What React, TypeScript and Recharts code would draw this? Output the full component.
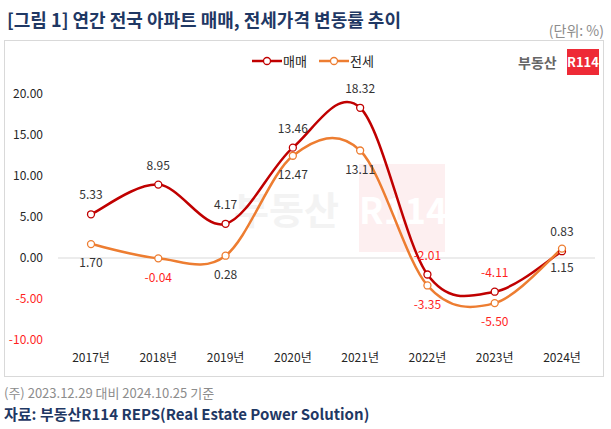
import React from "react";
import { LineChart, Line, XAxis, YAxis, ReferenceLine, LabelList } from "recharts";

const years = ["2017년", "2018년", "2019년", "2020년", "2021년", "2022년", "2023년", "2024년"];
const saleValues = [5.33, 8.95, 4.17, 13.46, 18.32, -2.01, -4.11, 0.83];
const jeonseValues = [1.7, -0.04, 0.28, 12.47, 13.11, -3.35, -5.5, 1.15];
const yTicks = [-10, -5, 0, 5, 10, 15, 20];
const seriesNames = ["매매", "전세"];
const seriesColors = ["#C00000", "#ED7D31"];

const data = years.map((y, i) => ({ year: y, sale: saleValues[i], jeonse: jeonseValues[i] }));

const FONT = "'Noto Sans CJK KR', 'Noto Sans', sans-serif";

// Excel-like smoothed line (Catmull-Rom through points)
const excelCurve = (context: any) => {
  let pts: number[][] = [];
  return {
    areaStart() {},
    areaEnd() {},
    lineStart() {
      pts = [];
    },
    point(x: number, y: number) {
      pts.push([+x, +y]);
    },
    lineEnd() {
      const n = pts.length;
      if (!n) return;
      context.moveTo(pts[0][0], pts[0][1]);
      for (let i = 0; i < n - 1; i++) {
        const p0 = pts[i - 1] || pts[i];
        const p1 = pts[i];
        const p2 = pts[i + 1];
        const p3 = pts[i + 2] || p2;
        context.bezierCurveTo(
          p1[0] + (p2[0] - p0[0]) / 6,
          p1[1] + (p2[1] - p0[1]) / 6,
          p2[0] - (p3[0] - p1[0]) / 6,
          p2[1] - (p3[1] - p1[1]) / 6,
          p2[0],
          p2[1]
        );
      }
    },
  };
};

const makeLabel = (pos: "top" | "bottom") => (props: any) => {
  const vb = props.viewBox || {};
  const x = props.x ?? vb.x;
  const y = props.y ?? vb.y;
  const v = Number(props.value);
  const ty = pos === "top" ? y - 19 : y + 19;
  return (
    <text
      x={x}
      y={ty}
      dy="0.35em"
      textAnchor="middle"
      fontSize={12}
      fontFamily={FONT}
      fill={v < 0 ? "#FF1F1F" : "#333333"}
    >
      {v.toFixed(2)}
    </text>
  );
};

const YTick = (props: any) => {
  const { x, y, payload } = props;
  const v = Number(payload.value);
  return (
    <text x={x} y={y} dy="0.35em" textAnchor="end" fontSize={12} fontFamily={FONT} fill={v < 0 ? "#FF1F1F" : "#262626"}>
      {v.toFixed(2)}
    </text>
  );
};

const XTick = (props: any) => {
  const { x, y, payload } = props;
  return (
    <text x={x} y={y} dy="0.71em" textAnchor="middle" fontSize={12} fontFamily={FONT} fill="#262626">
      {payload.value}
    </text>
  );
};

export default function App() {
  return (
    <div
      style={{
        position: "absolute",
        left: 0,
        top: 0,
        width: 611,
        height: 429,
        background: "#fff",
        fontFamily: FONT,
        overflow: "hidden",
      }}
    >
      <div
        style={{
          position: "absolute",
          left: 7,
          top: 7,
          fontSize: 18,
          fontWeight: 700,
          color: "#1F3864",
          whiteSpace: "nowrap",
          lineHeight: "24px",
        }}
      >
        [그림 1] 연간 전국 아파트 매매, 전세가격 변동률 추이
      </div>
      <div
        style={{
          position: "absolute",
          right: 7,
          top: 20,
          fontSize: 14,
          color: "#8c8c8c",
          whiteSpace: "nowrap",
          lineHeight: "20px",
        }}
      >
        (단위: %)
      </div>

      {/* chart box */}
      <div
        style={{
          position: "absolute",
          left: 4,
          top: 40,
          width: 598,
          height: 335,
          border: "1px solid #d9d9d9",
        }}
      />

      {/* watermark */}
      <div
        style={{
          position: "absolute",
          left: 234,
          top: 184,
          fontSize: 38,
          fontWeight: 700,
          color: "#f3f3f3",
          lineHeight: "48px",
          whiteSpace: "nowrap",
        }}
      >
        부동산
      </div>
      <div
        style={{
          position: "absolute",
          left: 359,
          top: 164,
          width: 86,
          height: 88,
          background: "#FDEFF0",
          color: "#ffffff",
          fontWeight: 700,
          fontSize: 36,
          lineHeight: "88px",
          textAlign: "center",
        }}
      >
        R114
      </div>

      {/* logo */}
      <div
        style={{
          position: "absolute",
          left: 518,
          top: 53,
          fontSize: 14,
          fontWeight: 700,
          color: "#666666",
          lineHeight: "18px",
          whiteSpace: "nowrap",
        }}
      >
        부동산
      </div>
      <div
        style={{
          position: "absolute",
          left: 567,
          top: 49,
          width: 32,
          height: 26,
          background: "#EE2A36",
          color: "#fff",
          fontWeight: 700,
          fontSize: 13,
          lineHeight: "26px",
          textAlign: "center",
        }}
      >
        R114
      </div>

      {/* legend */}
      <div
        style={{
          position: "absolute",
          left: 252,
          top: 52,
          display: "flex",
          alignItems: "center",
          fontSize: 13,
          color: "#262626",
          lineHeight: "18px",
          whiteSpace: "nowrap",
        }}
      >
        {seriesNames.map((name, i) => (
          <div key={name} style={{ display: "flex", alignItems: "center", marginRight: 12 }}>
            <svg width={30} height={10} style={{ marginRight: 1 }}>
              <line x1={0} y1={5} x2={30} y2={5} stroke={seriesColors[i]} strokeWidth={2.5} />
              <circle cx={15} cy={5} r={3.5} fill="#fff" stroke={seriesColors[i]} strokeWidth={1.3} />
            </svg>
            <span>{name}</span>
          </div>
        ))}
      </div>

      <div style={{ position: "absolute", left: 5, top: 40 }}>
        <LineChart width={598} height={336} data={data} margin={{ top: 54, right: 8, bottom: 6, left: 0 }}>
          <XAxis
            dataKey="year"
            axisLine={false}
            tickLine={false}
            tickSize={0}
            tickMargin={13}
            height={30}
            tick={<XTick />}
            interval={0}
            padding={{ left: 33, right: 33 }}
          />
          <YAxis
            domain={[-10, 20]}
            ticks={yTicks}
            axisLine={false}
            tickLine={false}
            tickSize={0}
            tickMargin={15}
            width={53}
            tick={<YTick />}
            allowDataOverflow
          />
          <ReferenceLine y={0} stroke="#d9d9d9" strokeWidth={1} />
          <Line
            dataKey="sale"
            name={seriesNames[0]}
            type={excelCurve as any}
            stroke={seriesColors[0]}
            strokeWidth={2.5}
            dot={{ r: 3.5, fill: "#fff", stroke: seriesColors[0], strokeWidth: 1.3 }}
            activeDot={false}
            isAnimationActive={false}
          >
            <LabelList dataKey="sale" content={makeLabel("top")} />
          </Line>
          <Line
            dataKey="jeonse"
            name={seriesNames[1]}
            type={excelCurve as any}
            stroke={seriesColors[1]}
            strokeWidth={2.5}
            dot={{ r: 3.5, fill: "#fff", stroke: seriesColors[1], strokeWidth: 1.3 }}
            activeDot={false}
            isAnimationActive={false}
          >
            <LabelList dataKey="jeonse" content={makeLabel("bottom")} />
          </Line>
        </LineChart>
      </div>

      {/* footer */}
      <div
        style={{
          position: "absolute",
          left: 4,
          top: 383,
          fontSize: 13,
          color: "#8c8c8c",
          lineHeight: "20px",
          whiteSpace: "nowrap",
        }}
      >
        (주) 2023.12.29 대비 2024.10.25 기준
      </div>
      <div
        style={{
          position: "absolute",
          left: 4,
          top: 404,
          fontSize: 15,
          fontWeight: 700,
          color: "#1F3864",
          lineHeight: "20px",
          whiteSpace: "nowrap",
        }}
      >
        자료: 부동산R114 REPS(Real Estate Power Solution)
      </div>
    </div>
  );
}
